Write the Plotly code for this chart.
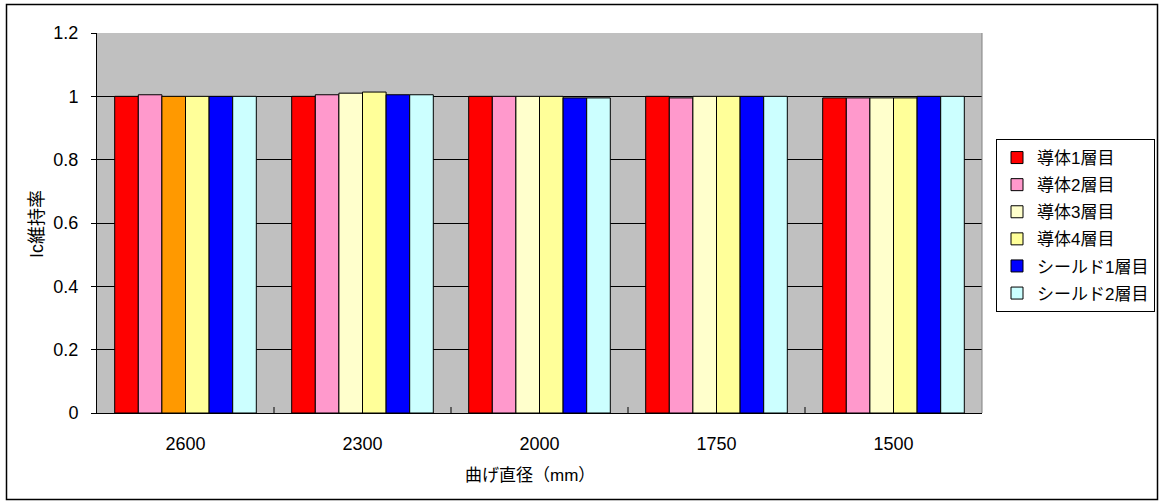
import plotly.graph_objects as go

categories = ["2600", "2300", "2000", "1750", "1500"]
series_names = ["導体1層目", "導体2層目", "導体3層目", "導体4層目", "シールド1層目", "シールド2層目"]
cond1 = [1.000, 1.000, 1.000, 1.000, 0.995]
cond2 = [1.005, 1.005, 1.000, 0.995, 0.995]
cond3 = [1.000, 1.010, 1.000, 1.000, 0.995]
cond4 = [1.000, 1.0135, 1.000, 1.000, 0.995]
shield1 = [1.000, 1.005, 0.995, 1.000, 1.000]
shield2 = [1.000, 1.005, 0.995, 1.000, 1.000]
values = [cond1, cond2, cond3, cond4, shield1, shield2]
colors = ["#FF0000", "#FF99CC", "#FFFFCC", "#FFFF99", "#0000FF", "#CCFFFF"]
cond3_point_colors = ["#FF9900", "#FFFFCC", "#FFFFCC", "#FFFFCC", "#FFFFCC"]

FONT = "Liberation Sans, Arial, Noto Sans CJK JP, sans-serif"

fig = go.Figure()
for i, (name, vals, col) in enumerate(zip(series_names, values, colors)):
    mc = cond3_point_colors if i == 2 else col
    fig.add_trace(go.Bar(
        x=categories, y=vals, name=name,
        marker=dict(color=mc, line=dict(color="#000000", width=1)),
        legendgroup=str(i), offsetgroup=str(i), legendrank=10 * (i + 1),
        showlegend=(i != 2),
    ))
# legend entry for series 3 shown with its regular light-yellow swatch
fig.add_trace(go.Bar(x=[categories[0]], y=[None], name=series_names[2],
                     legendgroup="2", offsetgroup="2", legendrank=30,
                     marker=dict(color=colors[2], line=dict(color="#000000", width=1)),
                     showlegend=True))

L, R, T, B = 97, 982, 33, 413
W, H = 1161, 502
pw, ph = R - L, B - T

def px(x):
    return (x - L) / pw

def py(y):
    return (B - y) / ph

fig.update_layout(
    width=W, height=H,
    margin=dict(l=L, r=W - R, t=T, b=H - B, pad=0, autoexpand=False),
    paper_bgcolor="white",
    plot_bgcolor="#C0C0C0",
    barmode="group",
    bargap=0.2,
    bargroupgap=0,
    font=dict(family=FONT, size=18, color="#000000"),
    showlegend=True,
    legend=dict(
        x=px(996), y=py(139), xanchor="left", yanchor="top",
        bordercolor="#000000", borderwidth=1, bgcolor="white",
        font=dict(family=FONT, size=17),
        traceorder="grouped", tracegroupgap=2,
        itemwidth=30,
    ),
    xaxis=dict(
        showline=True, linecolor="#000000", linewidth=1,
        ticks="", showgrid=False,
        ticklabelstandoff=14,
        tickfont=dict(size=18),
    ),
    yaxis=dict(
        range=[0, 1.2], dtick=0.2, tickformat="~g",
        showline=True, linecolor="#000000", linewidth=1,
        ticks="outside", ticklen=5, tickcolor="#000000",
        ticklabelstandoff=9,
        showgrid=True, gridcolor="#000000", gridwidth=1,
        zeroline=False,
        tickfont=dict(size=18),
    ),
    annotations=[
        dict(text="曲げ直径（mm）", xref="paper", yref="paper",
             x=px(530), y=py(475), xanchor="center", yanchor="middle",
             showarrow=False, font=dict(size=17)),
        dict(text="Ic維持率", xref="paper", yref="paper", textangle=-90,
             x=px(37), y=py(224), xanchor="center", yanchor="middle",
             showarrow=False, font=dict(size=18)),
    ],
    shapes=[
        dict(type="rect", xref="paper", yref="paper",
             x0=px(6.5), x1=px(1157.5), y0=py(499.5), y1=py(4.5),
             line=dict(color="#000000", width=1.5), fillcolor="rgba(0,0,0,0)", layer="below"),
        dict(type="line", xref="paper", yref="paper",
             x0=1, x1=1, y0=0, y1=1, line=dict(color="#808080", width=1)),
    ],
)

# inward category boundary ticks on x axis
for k in range(1, len(categories)):
    fig.add_shape(type="line", xref="x", yref="paper",
                  x0=k - 0.5, x1=k - 0.5, y0=0, y1=py(407),
                  line=dict(color="#000000", width=1))

fig.write_html("out.html", config={"displayModeBar": False},
               post_script="document.body.style.margin='0px';")
